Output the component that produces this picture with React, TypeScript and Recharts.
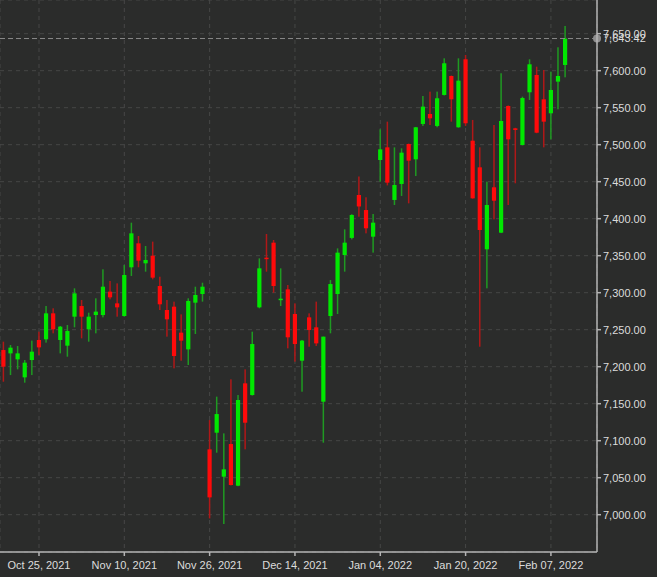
import React from 'react';
import { ComposedChart, Bar, XAxis, YAxis, CartesianGrid, ReferenceLine } from 'recharts';

const dates: string[] = [
  'Oct 18, 2021','Oct 19, 2021','Oct 20, 2021','Oct 21, 2021','Oct 22, 2021',
  'Oct 25, 2021','Oct 26, 2021','Oct 27, 2021','Oct 28, 2021','Oct 29, 2021',
  'Nov 01, 2021','Nov 02, 2021','Nov 03, 2021','Nov 04, 2021','Nov 05, 2021',
  'Nov 08, 2021','Nov 09, 2021','Nov 10, 2021','Nov 11, 2021','Nov 12, 2021',
  'Nov 15, 2021','Nov 16, 2021','Nov 17, 2021','Nov 18, 2021','Nov 19, 2021',
  'Nov 22, 2021','Nov 23, 2021','Nov 24, 2021','Nov 25, 2021','Nov 26, 2021',
  'Nov 29, 2021','Nov 30, 2021','Dec 01, 2021','Dec 02, 2021','Dec 03, 2021',
  'Dec 06, 2021','Dec 07, 2021','Dec 08, 2021','Dec 09, 2021','Dec 10, 2021',
  'Dec 13, 2021','Dec 14, 2021','Dec 15, 2021','Dec 16, 2021','Dec 17, 2021',
  'Dec 20, 2021','Dec 21, 2021','Dec 22, 2021','Dec 23, 2021','Dec 24, 2021',
  'Dec 29, 2021','Dec 30, 2021','Dec 31, 2021','Jan 04, 2022','Jan 05, 2022',
  'Jan 06, 2022','Jan 07, 2022','Jan 10, 2022','Jan 11, 2022','Jan 12, 2022',
  'Jan 13, 2022','Jan 14, 2022','Jan 17, 2022','Jan 18, 2022','Jan 19, 2022',
  'Jan 20, 2022','Jan 21, 2022','Jan 24, 2022','Jan 25, 2022','Jan 26, 2022',
  'Jan 27, 2022','Jan 28, 2022','Jan 31, 2022','Feb 01, 2022','Feb 02, 2022',
  'Feb 03, 2022','Feb 04, 2022','Feb 07, 2022','Feb 08, 2022','Feb 09, 2022',
];

const opens: number[] = [
  7222.5, 7218.0, 7209.9, 7185.6, 7209.0, 7236.1, 7237.0, 7272.1, 7236.1, 7228.4,
  7267.6, 7282.0, 7250.5, 7269.8, 7269.8, 7301.4, 7285.6, 7268.5, 7334.3, 7366.7,
  7339.7, 7350.0, 7309.0, 7276.6, 7281.1, 7246.0, 7223.4, 7286.5, 7298.2, 7088.3,
  7110.8, 7051.4, 7095.5, 7039.2, 7177.5, 7161.7, 7280.2, 7347.3, 7367.6, 7290.1,
  7304.5, 7271.2, 7208.1, 7266.7, 7253.2, 7152.7, 7268.5, 7298.2, 7350.9, 7374.0,
  7432.0, 7411.7, 7375.7, 7479.3, 7496.4, 7425.3, 7446.9, 7500.9, 7480.2, 7528.0,
  7541.5, 7525.3, 7567.2, 7592.8, 7523.5, 7615.4, 7505.4, 7469.4, 7358.6, 7442.4,
  7381.1, 7552.3, 7522.1, 7499.6, 7570.8, 7594.2, 7561.3, 7542.4, 7585.2, 7607.7,
];
const highs: number[] = [
  7233.8, 7229.3, 7227.9, 7209.0, 7235.2, 7247.3, 7282.0, 7278.9, 7255.0, 7256.3,
  7305.9, 7290.1, 7273.0, 7292.4, 7331.6, 7315.8, 7312.6, 7337.4, 7394.6, 7376.6,
  7363.1, 7369.0, 7321.6, 7290.1, 7287.9, 7270.7, 7292.4, 7308.1, 7313.5, 7127.9,
  7159.5, 7109.9, 7182.9, 7161.7, 7196.4, 7247.3, 7346.4, 7379.3, 7371.2, 7332.9,
  7310.4, 7285.6, 7236.1, 7272.1, 7287.9, 7240.6, 7317.1, 7359.9, 7385.6, 7406.0,
  7457.0, 7428.9, 7406.3, 7520.8, 7531.1, 7496.4, 7495.1, 7501.5, 7524.0, 7565.8,
  7571.7, 7571.7, 7616.7, 7593.5, 7616.7, 7621.2, 7533.4, 7496.4, 7450.0, 7526.6,
  7596.5, 7553.0, 7522.8, 7564.9, 7615.4, 7605.4, 7600.9, 7598.7, 7631.6, 7660.4,
];
const lows: number[] = [
  7179.7, 7188.7, 7196.4, 7178.4, 7188.7, 7215.8, 7232.5, 7245.1, 7218.0, 7213.5,
  7253.2, 7238.3, 7233.8, 7245.1, 7266.7, 7291.0, 7267.6, 7267.6, 7322.6, 7334.3,
  7328.4, 7318.0, 7276.6, 7240.6, 7197.8, 7208.1, 7202.3, 7244.2, 7287.9, 6995.0,
  7083.8, 6987.4, 7039.5, 7038.5, 7088.3, 7161.0, 7278.9, 7328.4, 7300.0, 7282.0,
  7224.8, 7206.8, 7166.2, 7227.0, 7228.0, 7097.3, 7245.1, 7271.2, 7328.4, 7372.0,
  7402.7, 7380.2, 7354.1, 7450.0, 7445.0, 7418.5, 7430.7, 7420.7, 7457.7, 7525.3,
  7526.6, 7523.5, 7566.5, 7531.1, 7523.0, 7525.3, 7427.0, 7227.0, 7305.9, 7399.1,
  7380.5, 7418.5, 7447.8, 7499.0, 7560.4, 7515.5, 7496.4, 7507.2, 7547.8, 7591.0,
];
const closes: number[] = [
  7200.0, 7225.7, 7218.0, 7205.4, 7220.3, 7226.1, 7272.1, 7250.5, 7254.1, 7248.2,
  7299.1, 7267.6, 7267.6, 7274.4, 7308.1, 7293.7, 7280.2, 7323.9, 7380.2, 7343.3,
  7344.2, 7320.3, 7284.3, 7264.0, 7214.4, 7235.2, 7288.8, 7296.9, 7308.1, 7023.4,
  7136.0, 7061.3, 7040.1, 7155.0, 7124.3, 7230.6, 7332.9, 7345.5, 7309.0, 7291.9,
  7239.7, 7230.6, 7235.2, 7249.6, 7231.5, 7240.6, 7311.7, 7354.1, 7367.6, 7405.0,
  7416.5, 7387.0, 7394.6, 7493.7, 7448.7, 7445.5, 7489.2, 7478.4, 7523.5, 7551.4,
  7535.6, 7562.7, 7610.0, 7561.3, 7586.5, 7528.9, 7427.5, 7384.7, 7418.5, 7424.3,
  7532.0, 7507.2, 7519.9, 7563.0, 7608.6, 7516.2, 7531.1, 7573.9, 7592.8, 7643.42,
];

const xTickIndices: number[] = [5, 17, 29, 41, 53, 65, 77];
const yTicks: number[] = [7000, 7050, 7100, 7150, 7200, 7250, 7300, 7350, 7400, 7450, 7500, 7550, 7600, 7650];

const data = dates.map((date, i) => ({
  idx: i,
  date,
  open: opens[i],
  high: highs[i],
  low: lows[i],
  close: closes[i],
}));

const lastClose = closes[closes.length - 1];

const BG = '#2b2c2b';
const AXIS = '#b4b4b4';
const TEXT = '#dcdcdc';
const FONT = '"Liberation Sans", Arial, sans-serif';

const fmtPrice = (v: number) =>
  v.toLocaleString('en-US', { minimumFractionDigits: 2, maximumFractionDigits: 2 });

const Candle = (props: any) => {
  const { x, y, width, height, payload } = props;
  if (!payload || height == null) return null;
  const { open, close, high, low } = payload;
  const cx = x + width / 2;
  const range = high - low || 1;
  const py = (v: number) => y + ((high - v) / range) * height;
  const up = close >= open;
  const bodyTop = py(Math.max(open, close));
  const bodyBot = py(Math.min(open, close));
  const bodyH = Math.max(bodyBot - bodyTop, 1.5);
  const bodyColor = up ? '#00e800' : '#ff0a0a';
  const wickColor = up ? '#1f9a22' : '#b01818';
  const bw = 4.2;
  return (
    <g>
      <rect x={cx - 0.75} y={y} width={1.5} height={Math.max(height, 1)} fill={wickColor} />
      <rect x={cx - bw / 2} y={bodyTop} width={bw} height={bodyH} fill={bodyColor} />
    </g>
  );
};

const PriceLabel = (props: any) => {
  const vb = props.viewBox || {};
  const xr = (vb.x || 0) + (vb.width || 0);
  const yy = vb.y || 0;
  return (
    <g>
      <circle cx={xr} cy={yy} r={4} fill="#8e8e8e" />
      <text x={xr + 6} y={yy} dy="0.355em" fill={TEXT} fontSize={11} fontFamily={FONT} textAnchor="start">
        {fmtPrice(lastClose)}
      </text>
    </g>
  );
};

export default function App() {
  return (
    <div style={{ position: 'absolute', left: 0, top: 0, width: 657, height: 577, background: BG, overflow: 'hidden' }}>
      <ComposedChart
        width={657}
        height={577}
        data={data}
        margin={{ top: 0, right: 0, bottom: 0, left: 0 }}
        style={{ fontFamily: FONT }}
      >
        <CartesianGrid stroke="#464746" strokeDasharray="4 4" />
        <XAxis
          dataKey="idx"
          type="number"
          domain={[-0.485, 83.48]}
          allowDataOverflow
          ticks={xTickIndices}
          tickFormatter={(v: number) => dates[v] ?? ''}
          height={25}
          tickSize={4}
          tickMargin={5}
          stroke={AXIS}
          axisLine={{ stroke: AXIS, strokeWidth: 1.5 }}
          tickLine={{ stroke: AXIS, strokeWidth: 1.5 }}
          tick={{ fill: TEXT, fontSize: 11, fontFamily: FONT }}
          interval={0}
        />
        <YAxis
          orientation="right"
          type="number"
          domain={[6949.6, 7695.5]}
          allowDataOverflow
          ticks={yTicks}
          tickFormatter={fmtPrice}
          width={60}
          tickSize={4}
          tickMargin={2}
          stroke={AXIS}
          axisLine={{ stroke: AXIS, strokeWidth: 1.5 }}
          tickLine={{ stroke: AXIS, strokeWidth: 1.5 }}
          tick={{ fill: TEXT, fontSize: 11, fontFamily: FONT }}
          interval={0}
        />
        <ReferenceLine y={lastClose} stroke="#8a8a8a" strokeDasharray="5 3" label={PriceLabel} />
        <Bar
          dataKey={(d: any) => [d.low, d.high]}
          shape={Candle}
          barSize={5}
          isAnimationActive={false}
        />
      </ComposedChart>
    </div>
  );
}
